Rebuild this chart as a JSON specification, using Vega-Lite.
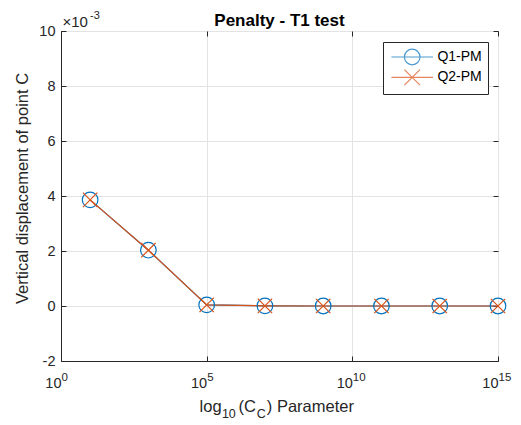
{
  "$schema": "https://vega.github.io/schema/vega-lite/v6.json",
  "width": 437,
  "height": 330,
  "autosize": "none",
  "padding": {"left": 61, "top": 31, "right": 23, "bottom": 64},
  "background": "white",
  "config": {
    "font": "Liberation Sans",
    "view": {"stroke": "#262626", "strokeWidth": 1},
    "axis": {
      "domainColor": "#262626",
      "tickColor": "#262626",
      "labelColor": "#262626",
      "titleColor": "#262626",
      "labelFontSize": 14.5,
      "labelFont": "Liberation Sans",
      "titleFont": "Liberation Sans",
      "gridColor": "#e3e3e3",
      "labelFlush": false,
      "labelOverlap": false,
      "labelBound": false
    }
  },
  "title": {"text": "Penalty - T1 test", "fontSize": 17, "fontWeight": "bold", "color": "#000000", "font": "Liberation Sans", "offset": 4, "dy": 24},
  "datasets": {
    "disp": [
      {"C": 10, "series": "Q1-PM", "disp": 0.00386},
      {"C": 1000, "series": "Q1-PM", "disp": 0.00203},
      {"C": 100000, "series": "Q1-PM", "disp": 0.00004},
      {"C": 10000000, "series": "Q1-PM", "disp": 0.000005},
      {"C": 1000000000, "series": "Q1-PM", "disp": 0},
      {"C": 100000000000, "series": "Q1-PM", "disp": 0},
      {"C": 10000000000000, "series": "Q1-PM", "disp": 0},
      {"C": 1000000000000000, "series": "Q1-PM", "disp": 0},
      {"C": 10, "series": "Q2-PM", "disp": 0.00386},
      {"C": 1000, "series": "Q2-PM", "disp": 0.00203},
      {"C": 100000, "series": "Q2-PM", "disp": 0.00004},
      {"C": 10000000, "series": "Q2-PM", "disp": 0.000005},
      {"C": 1000000000, "series": "Q2-PM", "disp": 0},
      {"C": 100000000000, "series": "Q2-PM", "disp": 0},
      {"C": 10000000000000, "series": "Q2-PM", "disp": 0},
      {"C": 1000000000000000, "series": "Q2-PM", "disp": 0}
    ]
  },
  "layer": [
    {
      "data": {"name": "disp"},
      "transform": [{"filter": "datum.series === 'Q1-PM'"}],
      "mark": {"type": "line", "strokeWidth": 1.2, "color": "#0072BD"},
      "encoding": {
        "x": {"field": "C", "type": "quantitative", "scale": {"type": "log", "domain": [1, 1e15], "nice": false},
              "axis": {"orient": "bottom", "values": [1, 1e5, 1e10, 1e15], "ticks": false, "domain": false, "grid": false, "title": null,
                       "labelFontSize": 11.5, "labelAlign": "left", "labelBaseline": "alphabetic", "labelPadding": 19,
                       "labelExpr": "datum.value < 2 ? '0' : datum.value < 1e6 ? '5' : datum.value < 1e11 ? '10' : '15'",
                       "encode": {"labels": {"dx": {"value": {"expr": "datum.value < 1e6 ? 5 : -0.3"}}}}}},
        "y": {"field": "disp", "type": "quantitative", "scale": {"domain": [-0.002, 0.01], "nice": false, "zero": false},
              "axis": {"orient": "right", "values": [-0.002, 0, 0.002, 0.004, 0.006, 0.008, 0.01], "labels": false, "domain": false, "grid": false, "tickSize": -5, "title": null}}
      }
    },
    {
      "data": {"name": "disp"},
      "transform": [{"filter": "datum.series === 'Q2-PM'"}],
      "mark": {"type": "line", "strokeWidth": 1.2, "color": "#D95319"},
      "encoding": {
        "x": {"field": "C", "type": "quantitative",
              "axis": {"orient": "top", "values": [1, 1e5, 1e10, 1e15], "labels": false, "domain": false, "grid": false, "tickSize": -5, "title": null}},
        "y": {"field": "disp", "type": "quantitative", "axis": null}
      }
    },
    {
      "data": {"name": "disp"},
      "mark": {"type": "point", "filled": false, "strokeWidth": 1.2, "size": 256, "opacity": 1},
      "encoding": {
        "x": {"field": "C", "type": "quantitative",
              "axis": {"orient": "bottom", "values": [1, 1e5, 1e10, 1e15], "grid": true, "tickSize": -5, "labelPadding": 31, "labelBaseline": "alphabetic", "labelAlign": "right", "domain": true, "title": null,
                       "labelExpr": "'10'",
                       "encode": {"labels": {"dx": {"value": {"expr": "datum.value < 1e6 ? 5 : -0.5"}}}}}},
        "y": {"field": "disp", "type": "quantitative",
              "axis": {"orient": "left", "values": [-0.002, 0, 0.002, 0.004, 0.006, 0.008, 0.01], "grid": true, "tickSize": -5, "labelPadding": 11, "domain": true,
                       "labelExpr": "'' + round(datum.value * 1000)",
                       "title": "Vertical displacement of point C", "titleFontSize": 16.5, "titleFontWeight": "normal", "titleX": -34, "titleY": 157, "titleBaseline": "alphabetic", "titleAngle": -90}},
        "color": {"field": "series", "type": "nominal", "scale": {"domain": ["Q1-PM", "Q2-PM"], "range": ["#0072BD", "#D95319"]}, "legend": null},
        "shape": {"field": "series", "type": "nominal",
                  "scale": {"domain": ["Q1-PM", "Q2-PM"], "range": ["M0.975,0C0.975,0.5385,0.5385,0.975,0,0.975C-0.5385,0.975,-0.975,0.5385,-0.975,0C-0.975,-0.5385,-0.5385,-0.975,0,-0.975C0.5385,-0.975,0.975,-0.5385,0.975,0", "M-0.9,-0.9L0.9,0.9M-0.9,0.9L0.9,-0.9"]},
                  "legend": null}
      }
    },
    {
      "data": {"name": "disp"},
      "transform": [{"filter": "datum.C < 0"}],
      "mark": {"type": "point", "filled": false, "strokeWidth": 1.2, "size": 256},
      "encoding": {
        "color": {"field": "series", "type": "nominal", "scale": {"domain": ["Q1-PM", "Q2-PM"], "range": ["#0072BD", "#D95319"]},
                  "legend": {"title": null, "orient": "none", "legendX": 322, "legendY": 11, "fillColor": "white", "strokeColor": "#262626", "padding": 6, "rowPadding": -1.6, "labelFontSize": 14, "labelColor": "#000000", "labelFont": "Liberation Sans", "labelOffset": 30.4, "symbolSize": 256, "symbolStrokeWidth": 1.2, "cornerRadius": 0}},
        "shape": {"field": "series", "type": "nominal",
                  "scale": {"domain": ["Q1-PM", "Q2-PM"], "range": ["M-0.825,0L4.375,0M2.75,0C2.75,0.5385,2.3135,0.975,1.775,0.975C1.2365,0.975,0.8,0.5385,0.8,0C0.8,-0.5385,1.2365,-0.975,1.775,-0.975C2.3135,-0.975,2.75,-0.5385,2.75,0", "M-0.825,0L4.375,0M0.8,-0.975L2.75,0.975M0.8,0.975L2.75,-0.975"]},
                  "legend": {"title": null, "orient": "none", "legendX": 322, "legendY": 11, "fillColor": "white", "strokeColor": "#262626", "padding": 6, "rowPadding": -1.6, "labelFontSize": 14, "labelColor": "#000000", "labelFont": "Liberation Sans", "labelOffset": 30.4, "symbolSize": 256, "symbolStrokeWidth": 1.2, "cornerRadius": 0}}
      }
    },
    {
      "data": {"values": [{"t": "×10"}]},
      "mark": {"type": "text", "align": "left", "baseline": "alphabetic", "fontSize": 15, "color": "#262626", "dx": 1.5, "dy": -4.5},
      "encoding": {"x": {"datum": 1, "axis": null}, "y": {"datum": 0.01, "axis": null}, "text": {"field": "t"}}
    },
    {
      "data": {"values": [{"t": "-3"}]},
      "mark": {"type": "text", "align": "left", "baseline": "alphabetic", "fontSize": 11, "color": "#262626", "dx": 29, "dy": -11.7},
      "encoding": {"x": {"datum": 1, "axis": null}, "y": {"datum": 0.01, "axis": null}, "text": {"field": "t"}}
    },
    {
      "data": {"values": [{"t": "log"}]},
      "mark": {"type": "text", "align": "left", "baseline": "alphabetic", "fontSize": 16.5, "color": "#262626", "dx": -79.9, "dy": 50.5},
      "encoding": {"x": {"datum": 31622776.6, "axis": null}, "y": {"datum": -0.002, "axis": null}, "text": {"field": "t"}}
    },
    {
      "data": {"values": [{"t": "10"}]},
      "mark": {"type": "text", "align": "left", "baseline": "alphabetic", "fontSize": 12.5, "color": "#262626", "dx": -57.6, "dy": 57},
      "encoding": {"x": {"datum": 31622776.6, "axis": null}, "y": {"datum": -0.002, "axis": null}, "text": {"field": "t"}}
    },
    {
      "data": {"values": [{"t": "(C"}]},
      "mark": {"type": "text", "align": "left", "baseline": "alphabetic", "fontSize": 16.5, "color": "#262626", "dx": -41, "dy": 50.5},
      "encoding": {"x": {"datum": 31622776.6, "axis": null}, "y": {"datum": -0.002, "axis": null}, "text": {"field": "t"}}
    },
    {
      "data": {"values": [{"t": "C"}]},
      "mark": {"type": "text", "align": "left", "baseline": "alphabetic", "fontSize": 12.5, "color": "#262626", "dx": -22.8, "dy": 57},
      "encoding": {"x": {"datum": 31622776.6, "axis": null}, "y": {"datum": -0.002, "axis": null}, "text": {"field": "t"}}
    },
    {
      "data": {"values": [{"t": ") Parameter"}]},
      "mark": {"type": "text", "align": "left", "baseline": "alphabetic", "fontSize": 16.5, "color": "#262626", "dx": -12.7, "dy": 50.5},
      "encoding": {"x": {"datum": 31622776.6, "axis": null}, "y": {"datum": -0.002, "axis": null}, "text": {"field": "t"}}
    }
  ],
  "resolve": {"axis": {"x": "independent", "y": "independent"}, "scale": {"color": "independent", "shape": "independent"}}
}
